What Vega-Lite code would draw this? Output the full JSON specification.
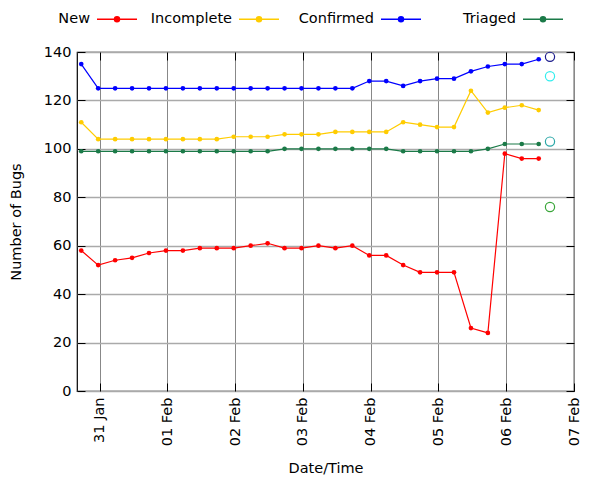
{
  "$schema": "https://vega.github.io/schema/vega-lite/v6.json",
  "width": 497,
  "height": 339,
  "autosize": {"type": "none"},
  "padding": {"left": 77, "top": 52, "right": 26, "bottom": 89},
  "background": "white",
  "config": {
    "font": "DejaVu Sans",
    "view": {"stroke": "black", "strokeWidth": 1.2},
    "axis": {"labelFont": "DejaVu Sans", "titleFont": "DejaVu Sans", "labelFontSize": 14.5, "titleFontSize": 14.5, "titleFontWeight": "normal", "labelColor": "black", "titleColor": "black", "domain": false, "tickColor": "black", "tickWidth": 1},
    "legend": {"labelFont": "DejaVu Sans", "labelFontSize": 14.5, "labelColor": "black"}
  },
  "datasets": {
    "bugs": [
      {"series": "New", "time": "2013-01-30T17:30", "count": 58},
      {"series": "New", "time": "2013-01-30T23:30", "count": 52},
      {"series": "New", "time": "2013-01-31T05:30", "count": 54},
      {"series": "New", "time": "2013-01-31T11:30", "count": 55},
      {"series": "New", "time": "2013-01-31T17:30", "count": 57},
      {"series": "New", "time": "2013-01-31T23:30", "count": 58},
      {"series": "New", "time": "2013-02-01T05:30", "count": 58},
      {"series": "New", "time": "2013-02-01T11:30", "count": 59},
      {"series": "New", "time": "2013-02-01T17:30", "count": 59},
      {"series": "New", "time": "2013-02-01T23:30", "count": 59},
      {"series": "New", "time": "2013-02-02T05:30", "count": 60},
      {"series": "New", "time": "2013-02-02T11:30", "count": 61},
      {"series": "New", "time": "2013-02-02T17:30", "count": 59},
      {"series": "New", "time": "2013-02-02T23:30", "count": 59},
      {"series": "New", "time": "2013-02-03T05:30", "count": 60},
      {"series": "New", "time": "2013-02-03T11:30", "count": 59},
      {"series": "New", "time": "2013-02-03T17:30", "count": 60},
      {"series": "New", "time": "2013-02-03T23:30", "count": 56},
      {"series": "New", "time": "2013-02-04T05:30", "count": 56},
      {"series": "New", "time": "2013-02-04T11:30", "count": 52},
      {"series": "New", "time": "2013-02-04T17:30", "count": 49},
      {"series": "New", "time": "2013-02-04T23:30", "count": 49},
      {"series": "New", "time": "2013-02-05T05:30", "count": 49},
      {"series": "New", "time": "2013-02-05T11:30", "count": 26},
      {"series": "New", "time": "2013-02-05T17:30", "count": 24},
      {"series": "New", "time": "2013-02-05T23:30", "count": 98},
      {"series": "New", "time": "2013-02-06T05:30", "count": 96},
      {"series": "New", "time": "2013-02-06T11:30", "count": 96},
      {"series": "Incomplete", "time": "2013-01-30T17:30", "count": 111},
      {"series": "Incomplete", "time": "2013-01-30T23:30", "count": 104},
      {"series": "Incomplete", "time": "2013-01-31T05:30", "count": 104},
      {"series": "Incomplete", "time": "2013-01-31T11:30", "count": 104},
      {"series": "Incomplete", "time": "2013-01-31T17:30", "count": 104},
      {"series": "Incomplete", "time": "2013-01-31T23:30", "count": 104},
      {"series": "Incomplete", "time": "2013-02-01T05:30", "count": 104},
      {"series": "Incomplete", "time": "2013-02-01T11:30", "count": 104},
      {"series": "Incomplete", "time": "2013-02-01T17:30", "count": 104},
      {"series": "Incomplete", "time": "2013-02-01T23:30", "count": 105},
      {"series": "Incomplete", "time": "2013-02-02T05:30", "count": 105},
      {"series": "Incomplete", "time": "2013-02-02T11:30", "count": 105},
      {"series": "Incomplete", "time": "2013-02-02T17:30", "count": 106},
      {"series": "Incomplete", "time": "2013-02-02T23:30", "count": 106},
      {"series": "Incomplete", "time": "2013-02-03T05:30", "count": 106},
      {"series": "Incomplete", "time": "2013-02-03T11:30", "count": 107},
      {"series": "Incomplete", "time": "2013-02-03T17:30", "count": 107},
      {"series": "Incomplete", "time": "2013-02-03T23:30", "count": 107},
      {"series": "Incomplete", "time": "2013-02-04T05:30", "count": 107},
      {"series": "Incomplete", "time": "2013-02-04T11:30", "count": 111},
      {"series": "Incomplete", "time": "2013-02-04T17:30", "count": 110},
      {"series": "Incomplete", "time": "2013-02-04T23:30", "count": 109},
      {"series": "Incomplete", "time": "2013-02-05T05:30", "count": 109},
      {"series": "Incomplete", "time": "2013-02-05T11:30", "count": 124},
      {"series": "Incomplete", "time": "2013-02-05T17:30", "count": 115},
      {"series": "Incomplete", "time": "2013-02-05T23:30", "count": 117},
      {"series": "Incomplete", "time": "2013-02-06T05:30", "count": 118},
      {"series": "Incomplete", "time": "2013-02-06T11:30", "count": 116},
      {"series": "Confirmed", "time": "2013-01-30T17:30", "count": 135},
      {"series": "Confirmed", "time": "2013-01-30T23:30", "count": 125},
      {"series": "Confirmed", "time": "2013-01-31T05:30", "count": 125},
      {"series": "Confirmed", "time": "2013-01-31T11:30", "count": 125},
      {"series": "Confirmed", "time": "2013-01-31T17:30", "count": 125},
      {"series": "Confirmed", "time": "2013-01-31T23:30", "count": 125},
      {"series": "Confirmed", "time": "2013-02-01T05:30", "count": 125},
      {"series": "Confirmed", "time": "2013-02-01T11:30", "count": 125},
      {"series": "Confirmed", "time": "2013-02-01T17:30", "count": 125},
      {"series": "Confirmed", "time": "2013-02-01T23:30", "count": 125},
      {"series": "Confirmed", "time": "2013-02-02T05:30", "count": 125},
      {"series": "Confirmed", "time": "2013-02-02T11:30", "count": 125},
      {"series": "Confirmed", "time": "2013-02-02T17:30", "count": 125},
      {"series": "Confirmed", "time": "2013-02-02T23:30", "count": 125},
      {"series": "Confirmed", "time": "2013-02-03T05:30", "count": 125},
      {"series": "Confirmed", "time": "2013-02-03T11:30", "count": 125},
      {"series": "Confirmed", "time": "2013-02-03T17:30", "count": 125},
      {"series": "Confirmed", "time": "2013-02-03T23:30", "count": 128},
      {"series": "Confirmed", "time": "2013-02-04T05:30", "count": 128},
      {"series": "Confirmed", "time": "2013-02-04T11:30", "count": 126},
      {"series": "Confirmed", "time": "2013-02-04T17:30", "count": 128},
      {"series": "Confirmed", "time": "2013-02-04T23:30", "count": 129},
      {"series": "Confirmed", "time": "2013-02-05T05:30", "count": 129},
      {"series": "Confirmed", "time": "2013-02-05T11:30", "count": 132},
      {"series": "Confirmed", "time": "2013-02-05T17:30", "count": 134},
      {"series": "Confirmed", "time": "2013-02-05T23:30", "count": 135},
      {"series": "Confirmed", "time": "2013-02-06T05:30", "count": 135},
      {"series": "Confirmed", "time": "2013-02-06T11:30", "count": 137},
      {"series": "Triaged", "time": "2013-01-30T17:30", "count": 99},
      {"series": "Triaged", "time": "2013-01-30T23:30", "count": 99},
      {"series": "Triaged", "time": "2013-01-31T05:30", "count": 99},
      {"series": "Triaged", "time": "2013-01-31T11:30", "count": 99},
      {"series": "Triaged", "time": "2013-01-31T17:30", "count": 99},
      {"series": "Triaged", "time": "2013-01-31T23:30", "count": 99},
      {"series": "Triaged", "time": "2013-02-01T05:30", "count": 99},
      {"series": "Triaged", "time": "2013-02-01T11:30", "count": 99},
      {"series": "Triaged", "time": "2013-02-01T17:30", "count": 99},
      {"series": "Triaged", "time": "2013-02-01T23:30", "count": 99},
      {"series": "Triaged", "time": "2013-02-02T05:30", "count": 99},
      {"series": "Triaged", "time": "2013-02-02T11:30", "count": 99},
      {"series": "Triaged", "time": "2013-02-02T17:30", "count": 100},
      {"series": "Triaged", "time": "2013-02-02T23:30", "count": 100},
      {"series": "Triaged", "time": "2013-02-03T05:30", "count": 100},
      {"series": "Triaged", "time": "2013-02-03T11:30", "count": 100},
      {"series": "Triaged", "time": "2013-02-03T17:30", "count": 100},
      {"series": "Triaged", "time": "2013-02-03T23:30", "count": 100},
      {"series": "Triaged", "time": "2013-02-04T05:30", "count": 100},
      {"series": "Triaged", "time": "2013-02-04T11:30", "count": 99},
      {"series": "Triaged", "time": "2013-02-04T17:30", "count": 99},
      {"series": "Triaged", "time": "2013-02-04T23:30", "count": 99},
      {"series": "Triaged", "time": "2013-02-05T05:30", "count": 99},
      {"series": "Triaged", "time": "2013-02-05T11:30", "count": 99},
      {"series": "Triaged", "time": "2013-02-05T17:30", "count": 100},
      {"series": "Triaged", "time": "2013-02-05T23:30", "count": 102},
      {"series": "Triaged", "time": "2013-02-06T05:30", "count": 102},
      {"series": "Triaged", "time": "2013-02-06T11:30", "count": 102}
    ],
    "latest": [
      {"marker": "M1", "time": "2013-02-06T15:30", "count": 138},
      {"marker": "M2", "time": "2013-02-06T15:30", "count": 130},
      {"marker": "M3", "time": "2013-02-06T15:30", "count": 103},
      {"marker": "M4", "time": "2013-02-06T15:30", "count": 76}
    ]
  },
  "resolve": {"axis": {"x": "independent", "y": "independent"}},
  "layer": [
    {
      "layer": [
        {
          "data": {"name": "bugs"},
          "mark": {"type": "line", "strokeWidth": 1.2, "clip": true},
          "encoding": {
            "x": {"field": "time", "type": "temporal",
                  "scale": {"domain": [{"year": 2013, "month": 1, "date": 30, "hours": 16}, {"year": 2013, "month": 2, "date": 7}]},
                  "title": "Date/Time",
                  "axis": {"format": "%d %b", "tickCount": {"interval": "day", "step": 1}, "labelAngle": 270, "labelAlign": "right", "labelBaseline": "middle", "ticks": true, "tickSize": -8, "labelPadding": 14, "grid": true, "gridColor": "#888888", "gridWidth": 1, "titlePadding": 16, "labelFlush": false, "labelOverlap": false}},
            "y": {"field": "count", "type": "quantitative",
                  "scale": {"domain": [0, 140], "nice": false},
                  "title": "Number of Bugs",
                  "axis": {"values": [0, 20, 40, 60, 80, 100, 120, 140], "ticks": true, "tickSize": -8, "labelPadding": 14, "grid": true, "gridColor": "#aaaaaa", "gridWidth": 1.5, "titlePadding": 20, "labelFlush": false}},
            "color": {"field": "series", "type": "nominal",
                      "scale": {"domain": ["New", "Incomplete", "Confirmed", "Triaged"], "range": ["#ff0000", "#ffcc00", "#0000ff", "#1b7a48"]},
                      "legend": {"orient": "none", "legendX": 19, "legendY": -54, "direction": "horizontal", "title": null,
                                 "symbolType": "M-1,0L1,0M0.125,0A0.125,0.125 0 1 1 -0.125,0A0.125,0.125 0 1 1 0.125,0Z",
                                 "symbolSize": 1600, "symbolStrokeWidth": 1.5, "symbolOpacity": 1,
                                 "labelAlign": "right", "labelOffset": -48, "gridAlign": "all", "columnPadding": 10}}
          }
        },
        {
          "data": {"name": "bugs"},
          "mark": {"type": "point", "filled": true, "size": 22, "opacity": 1},
          "encoding": {
            "x": {"field": "time", "type": "temporal"},
            "y": {"field": "count", "type": "quantitative"},
            "color": {"field": "series", "type": "nominal"}
          }
        },
        {
          "data": {"name": "latest"},
          "mark": {"type": "point", "filled": false, "size": 85, "strokeWidth": 1.2, "opacity": 1},
          "encoding": {
            "x": {"field": "time", "type": "temporal"},
            "y": {"field": "count", "type": "quantitative"},
            "stroke": {"field": "marker", "type": "nominal",
                       "scale": {"domain": ["M1", "M2", "M3", "M4"], "range": ["#1c1c8c", "#33eeee", "#2aa7a7", "#3aa63a"]},
                       "legend": null}
          }
        }
      ]
    },
    {
      "data": {"name": "latest"},
      "mark": {"type": "point", "opacity": 0},
      "encoding": {
        "x": {"field": "time", "type": "temporal", "title": null,
              "axis": {"tickCount": {"interval": "day", "step": 1}, "labels": false, "ticks": true, "tickSize": -8, "grid": false}},
        "y": {"field": "count", "type": "quantitative", "title": null,
              "axis": {"values": [0, 20, 40, 60, 80, 100, 120, 140], "labels": false, "ticks": true, "tickSize": -8, "grid": false}}
      }
    }
  ]
}
